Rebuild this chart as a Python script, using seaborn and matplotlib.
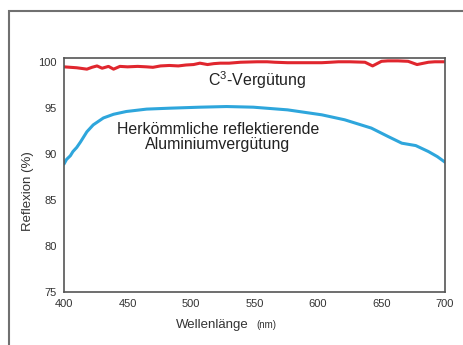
import matplotlib
matplotlib.use("Agg")
import matplotlib.pyplot as plt
import matplotlib.patches as mpatches
import seaborn as sns
import pandas as pd

# Reflexion values
wave_c3 = [400, 405, 410, 418, 422, 426, 430, 435, 439, 444, 450, 458, 465, 470,
           476, 483, 490, 496, 502, 507, 513, 518, 523, 530, 539, 552, 560, 566,
           576, 590, 603, 610, 616, 625, 637, 643, 650, 655, 663, 671, 678, 687,
           692, 700]
refl_c3 = [99.45, 99.4, 99.35, 99.2, 99.4, 99.55, 99.3, 99.5, 99.2, 99.5, 99.45,
           99.5, 99.45, 99.4, 99.55, 99.6, 99.55, 99.65, 99.7, 99.85, 99.7, 99.8,
           99.85, 99.85, 99.95, 100.0, 100.0, 99.95, 99.9, 99.9, 99.9, 99.95,
           100.0, 100.0, 99.95, 99.55, 100.05, 100.1, 100.1, 100.05, 99.7, 99.95,
           100.0, 100.0]

wave_al = [400, 402, 405, 407, 410, 413, 418, 423, 431, 439, 449, 465, 483, 507,
           528, 549, 576, 603, 621, 642, 655, 666, 677, 687, 694, 700]
refl_al = [88.9, 89.4, 89.8, 90.25, 90.7, 91.3, 92.4, 93.15, 93.9, 94.3, 94.6,
           94.86, 94.96, 95.07, 95.14, 95.07, 94.78, 94.24, 93.7, 92.8, 91.9,
           91.16, 90.9, 90.25, 89.7, 89.1]

x_ticks = [400, 450, 500, 550, 600, 650, 700]
y_ticks = [75, 80, 85, 90, 95, 100]

df = pd.concat([
    pd.DataFrame({"wave": wave_c3, "refl": refl_c3, "coat": "C3"}),
    pd.DataFrame({"wave": wave_al, "refl": refl_al, "coat": "Al"}),
])

sns.set_style("white")
plt.rcParams["font.family"] = ["Liberation Sans", "DejaVu Sans"]
plt.rcParams["mathtext.fontset"] = "custom"
plt.rcParams["mathtext.rm"] = "Liberation Sans"

fig = plt.figure(figsize=(4.64, 3.45), dpi=100)
ax = fig.add_axes([0.138, 0.1536, 0.821, 0.678])

sns.lineplot(data=df, x="wave", y="refl", hue="coat",
             palette={"C3": "#e0262e", "Al": "#2ea6dc"},
             linewidth=2.2, legend=False, ax=ax)

ax.set_xlim(400, 700)
ax.set_ylim(75, 100.4)
ax.set_xticks(x_ticks)
ax.set_yticks(y_ticks)
ax.tick_params(direction="in", length=3, width=0.9, colors="#555555",
               labelcolor="#333333", labelsize=8, pad=5)
for s in ax.spines.values():
    s.set_color("#555555")
    s.set_linewidth(1.2)

ax.set_xlabel("")
ax.set_ylabel("Reflexion (%)", fontsize=9.5, color="#333333")
ax.yaxis.set_label_coords(-0.08, 0.43)

ax.text(0.388, -0.155, "Wellenlänge", transform=ax.transAxes,
        ha="center", va="baseline", fontsize=9.5, color="#333333")
ax.text(0.53, -0.155, "(nm)", transform=ax.transAxes,
        ha="center", va="baseline", fontsize=7, color="#333333")

ax.text(552, 98.05, r"C$^{\mathrm{3}}$-Vergütung", ha="center", va="center",
        fontsize=11.5, color="#222222")
ax.text(521, 91.85, "Herkömmliche reflektierende\nAluminiumvergütung",
        ha="center", va="center", fontsize=11.4, color="#222222",
        linespacing=1.05)

# outer grey frame, cut by the image border on the right and bottom
frame = mpatches.Rectangle((0.0194, -0.2), 1.2, 1.168, transform=fig.transFigure,
                           fill=False, edgecolor="#707070", linewidth=1.5)
fig.patches.append(frame)

fig.savefig("out.png", dpi=100)
